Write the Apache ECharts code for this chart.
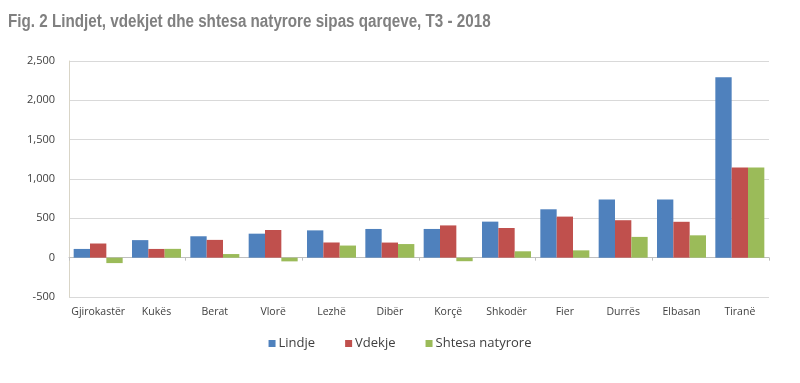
<!DOCTYPE html>
<html>
<head>
<meta charset="utf-8">
<script src="https://cdn.jsdelivr.net/npm/echarts@6/dist/echarts.min.js"></script>
<style>html,body{margin:0;padding:0;background:#fff;}#c{width:800px;height:383px;}</style>
</head>
<body>
<div id="c"></div>
<script>
var categories = ['Gjirokastër','Kukës','Berat','Vlorë','Lezhë','Dibër','Korçë','Shkodër','Fier','Durrës','Elbasan','Tiranë'];
var lindje = [111, 223, 272, 305, 347, 365, 365, 458, 615, 740, 740, 2292];
var vdekje = [180, 111, 226, 352, 193, 192, 410, 377, 522, 476, 456, 1146];
var shtesa = [-69, 112, 46, -47, 154, 173, -45, 81, 93, 264, 284, 1146];
var yTicks = { min: -500, max: 2500, interval: 500 };
var title = 'Fig. 2 Lindjet, vdekjet dhe shtesa natyrore sipas qarqeve, T3 - 2018';

var chart = echarts.init(document.getElementById('c'), null, {renderer:'canvas'});
var labelFont = '"Open Sans", "Noto Sans", sans-serif';
chart.setOption({
  animation: false,
  graphic: [{
    type: 'text', left: 8, top: 13, scaleX: 0.845,
    style: { text: title, fontFamily: '"Liberation Sans", Arial, sans-serif', fontWeight: 'bold', fontSize: 18, fill: '#808080' }
  }],
  legend: {
    bottom: 28, left: 'center', itemWidth: 7, itemHeight: 7, itemGap: 30,
    icon: 'rect',
    textStyle: { fontFamily: labelFont, fontSize: 13, color: '#404040', padding: [0,0,0,-2] },
    data: ['Lindje','Vdekje','Shtesa natyrore']
  },
  grid: { left: 69, right: 31, top: 61, bottom: 86, containLabel: false },
  xAxis: [{
    type: 'category', data: categories,
    axisLine: { onZero: true, lineStyle: { color: '#bfbfbf', width: 1 } },
    axisTick: { show: true, length: 3, lineStyle: { color: '#bfbfbf' } },
    axisLabel: { show: false }
  }, {
    type: 'category', data: categories, position: 'bottom',
    axisLine: { show: false, onZero: false }, axisTick: { show: false },
    axisLabel: { interval: 0, fontFamily: labelFont, fontSize: 10.5, color: '#404040', margin: 10 }
  }],
  yAxis: {
    type: 'value', min: yTicks.min, max: yTicks.max, interval: yTicks.interval,
    axisLine: { show: true, lineStyle: { color: '#d9d5c7' } },
    axisTick: { show: false },
    splitLine: { lineStyle: { color: '#d9d9d9' } },
    axisLabel: {
      fontFamily: labelFont, fontSize: 11, color: '#404040', margin: 14,
      formatter: function (v) { return v.toLocaleString('en-US'); }
    }
  },
  series: [
    { name: 'Lindje', type: 'bar', data: lindje, itemStyle: { color: '#4f81bd' }, barGap: '0%', barCategoryGap: '16%' },
    { name: 'Vdekje', type: 'bar', data: vdekje, itemStyle: { color: '#c0504d' }, barGap: '0%', barCategoryGap: '16%' },
    { name: 'Shtesa natyrore', type: 'bar', data: shtesa, itemStyle: { color: '#9bbb59' }, barGap: '0%', barCategoryGap: '16%' }
  ]
});
</script>
</body>
</html>
